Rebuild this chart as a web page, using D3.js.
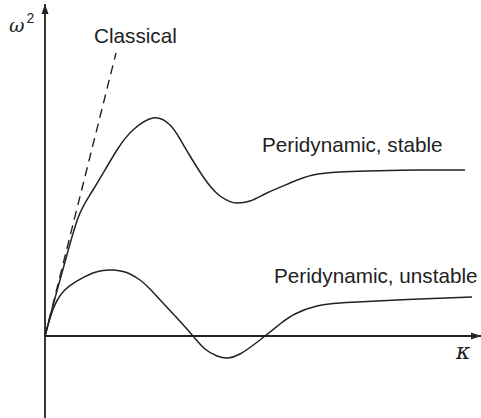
<!DOCTYPE html>
<html>
<head>
<meta charset="utf-8">
<script src="https://cdn.jsdelivr.net/npm/d3@7"></script>
<style>
  body { margin: 0; background: #fff; }
  text { fill: #222; }
</style>
</head>
<body>
<div id="container"></div>
<script>
// values (arbitrary units, kappa vs omega^2)
const stableK = [0, 2.5, 5, 8.25, 12, 18, 22, 27, 31.25, 33.75, 36.25, 38.75, 41.25, 43.75, 46.25, 48, 51.25, 55.5, 61.25, 67, 73.75, 80.5, 93.75, 105];
const stableW = [0, 9.5, 18.5, 29.5, 36.5, 46.5, 51.5, 54.5, 52.75, 49.25, 45, 41, 37.5, 35, 33.6, 33.25, 33.75, 35.75, 38.25, 40.25, 41, 41.25, 41.5, 41.5];

const unstableK = [0, 0.75, 1.5, 2.25, 3.25, 4.5, 6, 7.75, 9.5, 12, 14.5, 17, 19.5, 21.25, 23.75, 26.25, 29.5, 33, 37, 40, 43, 45.75, 48.75, 51.75, 55, 58.75, 62.5, 68, 73.75, 80.5, 93.75, 106.75];
const unstableW = [0, 2.75, 5.25, 7.25, 9.25, 11, 12.4, 13.6, 14.6, 15.75, 16.4, 16.5, 16.1, 15.5, 14, 11.75, 8.25, 4.5, 0, -3.25, -5, -5.5, -4.5, -2.5, 0, 3, 5.5, 7.5, 8.25, 8.6, 9.25, 9.75];

const classicalK = [0, 17.75];
const classicalW = [0, 70.75];

const labels = ["Classical", "Peridynamic, stable", "Peridynamic, unstable"];
const labelK = [12.25, 54.25, 57.25];
const labelW = [73.25, 46, 13.25];

const width = 481, height = 418;

const svg = d3.select("#container").append("svg")
    .attr("width", width)
    .attr("height", height);

const x = d3.scaleLinear().domain([0, 109]).range([45, 481]);
const y = d3.scaleLinear().domain([-21, 83]).range([420, 4]);

const defs = svg.append("defs");
defs.append("marker")
    .attr("id", "arrow")
    .attr("viewBox", "0 0 10 10")
    .attr("refX", 10).attr("refY", 5)
    .attr("markerWidth", 10).attr("markerHeight", 10)
    .attr("markerUnits", "userSpaceOnUse")
    .attr("orient", "auto")
  .append("path")
    .attr("d", "M0,1.5 L10,5 L0,8.5 Z")
    .attr("fill", "#222");

// axes
svg.append("line")
    .attr("x1", x(0)).attr("y1", y(0))
    .attr("x2", x(109)).attr("y2", y(0))
    .attr("stroke", "#222").attr("stroke-width", 1.8)
    .attr("marker-end", "url(#arrow)");

svg.append("line")
    .attr("x1", x(0)).attr("y1", y(-21))
    .attr("x2", x(0)).attr("y2", y(83))
    .attr("stroke", "#222").attr("stroke-width", 1.8)
    .attr("marker-end", "url(#arrow)");

const line = d3.line()
    .x(d => x(d[0]))
    .y(d => y(d[1]))
    .curve(d3.curveNatural);

svg.append("path")
    .datum(d3.zip(stableK, stableW))
    .attr("d", line)
    .attr("fill", "none").attr("stroke", "#222").attr("stroke-width", 1.5);

svg.append("path")
    .datum(d3.zip(unstableK, unstableW))
    .attr("d", line)
    .attr("fill", "none").attr("stroke", "#222").attr("stroke-width", 1.5);

svg.append("path")
    .datum(d3.zip(classicalK, classicalW))
    .attr("d", d3.line().x(d => x(d[0])).y(d => y(d[1])))
    .attr("fill", "none").attr("stroke", "#222").attr("stroke-width", 1.4)
    .attr("stroke-dasharray", "9,6");

svg.selectAll(".lbl")
    .data(labels)
  .enter().append("text")
    .attr("class", "lbl")
    .attr("x", (d, i) => x(labelK[i]))
    .attr("y", (d, i) => y(labelW[i]))
    .attr("font-family", "Liberation Sans, Arial, sans-serif")
    .attr("font-size", 20.7)
    .text(d => d);

// axis labels
const wl = svg.append("text")
    .attr("x", 9).attr("y", 32)
    .attr("font-family", "DejaVu Serif, serif")
    .attr("font-style", "italic")
    .attr("font-size", 19);
wl.append("tspan").text("ω");
wl.append("tspan")
    .attr("font-family", "Liberation Sans, Arial, sans-serif")
    .attr("font-style", "normal")
    .attr("font-size", 14)
    .attr("dx", 2).attr("dy", -9)
    .text("2");

svg.append("text")
    .attr("x", 456).attr("y", 359)
    .attr("font-family", "DejaVu Serif, serif")
    .attr("font-style", "italic")
    .attr("font-size", 22)
    .text("κ");
</script>
</body>
</html>
